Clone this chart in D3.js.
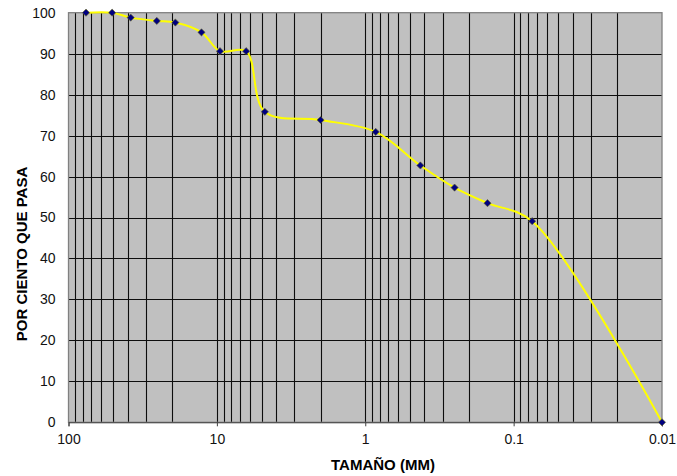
<!DOCTYPE html>
<html>
<head>
<meta charset="utf-8">
<script src="https://cdn.jsdelivr.net/npm/d3@7"></script>
<style>
  html, body { margin: 0; padding: 0; background: #fff; }
  svg { display: block; }
  text { font-family: "Liberation Sans", Arial, sans-serif; }
</style>
</head>
<body>
<svg id="chart" width="677" height="476"></svg>
<script>
// Data
const sizesMM = [76.2, 50.8, 38.1, 25.4, 19.05, 12.7, 9.525, 6.35, 4.75, 2.0, 0.85, 0.425, 0.25, 0.15, 0.075, 0.01];
const percentPassing = [100, 100, 98.8, 98.0, 97.6, 95.2, 90.6, 90.6, 75.8, 73.8, 70.9, 62.7, 57.3, 53.5, 49.1, 0];
const xTickValues = [100, 10, 1, 0.1, 0.01];
const xTickLabels = ["100", "10", "1", "0.1", "0.01"];
const yTickValues = [0, 10, 20, 30, 40, 50, 60, 70, 80, 90, 100];
const xTitle = "TAMAÑO (MM)";
const yTitle = "POR CIENTO QUE PASA";

const svg = d3.select("#chart");
const L = 68.5, R = 662, T = 12.7, B = 422.3;

const x = d3.scaleLog().domain([100, 0.01]).range([L, R]);
const y = d3.scaleLinear().domain([0, 100]).range([B, T]);

// plot background
svg.append("rect").attr("x", L).attr("y", T).attr("width", R - L).attr("height", B - T)
  .attr("fill", "#c0c0c0");

// vertical log gridlines (minor + major)
const vlines = [];
[10, 1, 0.1, 0.01].forEach(dec => {
  for (let k = 1; k <= 9; k++) vlines.push(dec * k);
});
const vfilter = vlines.filter(v => v < 100 && v > 0.01);
svg.append("g").selectAll("line").data(vfilter).join("line")
  .attr("x1", d => Math.round(x(d)) + 0.5).attr("x2", d => Math.round(x(d)) + 0.5)
  .attr("y1", T).attr("y2", B)
  .attr("stroke", "#0d0d0d").attr("stroke-width", 1.1);

// horizontal gridlines
svg.append("g").selectAll("line").data(yTickValues.filter(v => v > 0 && v < 100)).join("line")
  .attr("x1", L).attr("x2", R)
  .attr("y1", d => Math.round(y(d)) + 0.5).attr("y2", d => Math.round(y(d)) + 0.5)
  .attr("stroke", "#0d0d0d").attr("stroke-width", 1.1);

// plot border
svg.append("rect").attr("x", L).attr("y", T).attr("width", R - L).attr("height", B - T)
  .attr("fill", "none").attr("stroke", "#808080").attr("stroke-width", 1.3);

// x axis
const xAxis = d3.axisBottom(x).tickValues(xTickValues)
  .tickFormat((d, i) => xTickLabels[i]).tickSize(4).tickPadding(8);
const gx = svg.append("g").attr("transform", `translate(0,${B})`).call(xAxis);
gx.select(".domain").attr("stroke", "#404040");
gx.selectAll(".tick line").attr("stroke", "#404040");
gx.selectAll("text").attr("font-size", 14).attr("fill", "#111")
  .attr("font-family", "'Liberation Sans', Arial, sans-serif");

// y axis
const yAxis = d3.axisLeft(y).tickValues(yTickValues).tickSize(0).tickPadding(13);
const gy = svg.append("g").attr("transform", `translate(${L},0)`).call(yAxis);
gy.select(".domain").remove();
gy.selectAll("text").attr("font-size", 14).attr("fill", "#111")
  .attr("font-family", "'Liberation Sans', Arial, sans-serif");

// curve
const pts = sizesMM.map((s, i) => [x(s), y(percentPassing[i])]);
svg.append("path").datum(pts)
  .attr("d", d3.line().curve(d3.curveCatmullRom.alpha(0.5)))
  .attr("fill", "none").attr("stroke", "#ffff00").attr("stroke-width", 2);

// markers (square rotated 45° = diamond)
svg.append("g").selectAll("path").data(pts).join("path")
  .attr("transform", d => `translate(${d[0]},${d[1]}) rotate(45)`)
  .attr("d", d3.symbol(d3.symbolSquare, 26))
  .attr("fill", "#000080").attr("stroke", "#6b6b20").attr("stroke-width", 0.6);

// titles
svg.append("text").attr("x", 383).attr("y", 470).attr("text-anchor", "middle")
  .attr("font-size", 15).attr("font-weight", "bold").attr("fill", "#000").text(xTitle);
svg.append("text").attr("transform", "translate(27,254) rotate(-90)").attr("text-anchor", "middle")
  .attr("font-size", 15).attr("font-weight", "bold").attr("fill", "#000").text(yTitle);
</script>
</body>
</html>
